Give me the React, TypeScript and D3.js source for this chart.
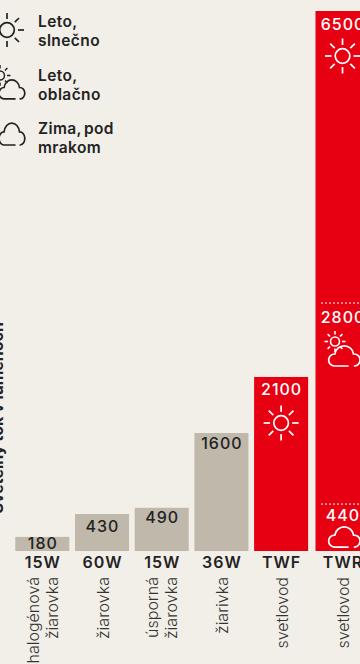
import React from "react";
import * as d3 from "d3";

const categories = ["15W", "60W", "15W", "36W", "TWF", "TWR"];
const valueLabels = ["180", "430", "490", "1600", "2100", "6500"];
const barValues = [170, 445, 520, 1420, 2095, 6500];
const typeLines = [["halogénová", "žiarovka"], ["žiarovka"], ["úsporná", "žiarovka"], ["žiarivka"], ["svetlovod"], ["svetlovod"]];
const highlighted = ["TWF", "TWR"];
const twrMarkers = [{ label: "2800", value: 2985, icon: "mixed" }, { label: "440", value: 565, icon: "cloud" }];
const legendLines = [["Leto,", "slnečno"], ["Leto,", "oblačno"], ["Zima, pod", "mrakom"]];
const axisTitle = "Svetelný tok v lumenoch";

const W = 360, H = 664, baseY = 551;
const BG = "#f2efe9", GREY = "#bfb8ab", RED = "#e60012", INK = "#222222";
const FONT = "Inter, Roboto, sans-serif";

const step = 59.7;
const pad = 0.095;
const x = d3.scaleBand<number>().domain(d3.range(6)).range([15.3, 15.3 + step * (6 - pad)]).paddingInner(pad).paddingOuter(0);
const y = d3.scaleLinear().domain([0, 6500]).range([baseY, 11]);
const lastNudge = 1.7;
const xPos = (i: number) => (x(i) as number) + (i === 5 ? lastNudge : 0);
const labelDrop = [12.5, 18, 15, 16, 18.5, 19];

const Sun = ({ cx, cy, r, r1, r2, stroke, sw }: any) => (
  <g transform={`translate(${cx},${cy})`} fill="none" stroke={stroke} strokeWidth={sw}>
    <circle r={r} />
    {d3.range(8).map((k) => {
      const a = (k * Math.PI) / 4;
      return <line key={k} x1={Math.cos(a) * r1} y1={Math.sin(a) * r1} x2={Math.cos(a) * r2} y2={Math.sin(a) * r2} />;
    })}
  </g>
);

const Cloud = ({ tx, ty, sx = 1, sy = 1, stroke, sw }: any) => (
  <path
    transform={`translate(${tx},${ty}) scale(${sx},${sy})`}
    vectorEffect="non-scaling-stroke"
    fill="none"
    stroke={stroke}
    strokeWidth={sw}
    strokeLinecap="round"
    d="M20 22 H6.5 A6 6 0 0 1 6.8 10 A9.5 9.5 0 0 1 25.6 10 A6 6 0 0 1 26.5 22"
  />
);

export default function App() {
  return (
    <svg width={W} height={H} viewBox={`0 0 ${W} ${H}`} style={{ position: "fixed", left: 0, top: 0, display: "block", background: BG }} fontFamily={FONT}>
      <rect width={W} height={H} fill={BG} />

      <Sun cx={7} cy={30} r={7.3} r1={11} r2={17} stroke={INK} sw={1.7} />
      <Sun cx={0} cy={75.5} r={4.5} r1={7} r2={10.5} stroke={INK} sw={1.5} />
      <Cloud tx={-1.5} ty={78} sx={0.82} sy={0.95} stroke={INK} sw={1.7} />
      <Cloud tx={-1.5} ty={121} sx={0.82} sy={1.09} stroke={INK} sw={1.7} />
      {legendLines.map((lines, i) => (
        <text key={i} fontSize={15.5} fontWeight={600} letterSpacing={0.4} wordSpacing={-2} fill={INK}>
          {lines.map((t, j) => (
            <tspan key={j} x={38} y={[27, 81, 134][i] + j * 18.5}>{t}</tspan>
          ))}
        </text>
      ))}

      <text transform="translate(3,322) rotate(-90)" textAnchor="end" fontSize={16} fontWeight={700} fill={INK}>{axisTitle}</text>

      {categories.map((c, i) => {
        const isRed = highlighted.includes(c);
        const top = y(barValues[i]);
        const cx = xPos(i) + x.bandwidth() / 2;
        return (
          <g key={i}>
            <rect x={xPos(i)} y={top} width={x.bandwidth()} height={baseY - top} fill={isRed ? RED : GREY} />
            <text x={cx + 0.5} y={top + labelDrop[i]} textAnchor="middle" fontSize={16} fontWeight={500} letterSpacing={1} fill={isRed ? "#fff" : INK}>{valueLabels[i]}</text>
            <text x={cx + 0.5} y={568} textAnchor="middle" fontSize={16} fontWeight={600} letterSpacing={1} fill={INK}>{c}</text>
            {typeLines[i].map((t, j, arr) => {
              const bx = cx + 6.5 + (j - (arr.length - 1)) * 19 + (arr.length > 1 ? 9 : 0);
              return (
                <text key={j} transform={`translate(${bx},577) rotate(-90)`} textAnchor="end" fontSize={16} fontWeight={300} fill="#333">{t}</text>
              );
            })}
          </g>
        );
      })}

      <Sun cx={xPos(4) + x.bandwidth() / 2} cy={423} r={7.3} r1={11} r2={17.5} stroke="#fff" sw={1.7} />
      <Sun cx={xPos(5) + x.bandwidth() / 2} cy={56} r={7.3} r1={11} r2={17.5} stroke="#fff" sw={1.7} />

      {twrMarkers.map((m) => {
        const my = y(m.value);
        const cx = xPos(5) + x.bandwidth() / 2;
        return (
          <g key={m.label}>
            <line x1={321} x2={360} y1={my} y2={my} stroke="#fff" strokeWidth={1} strokeDasharray="2 2" />
            <text x={cx + 0.5} y={my + (m.icon === "mixed" ? 20 : 17)} textAnchor="middle" fontSize={16} fontWeight={500} letterSpacing={1} fill="#fff">{m.label}</text>
            {m.icon === "mixed" && <Sun cx={335} cy={341.5} r={4.5} r1={7} r2={10.5} stroke="#fff" sw={1.6} />}
            <Cloud tx={328} ty={my + (m.icon === "mixed" ? 41 : 21)} stroke="#fff" sw={1.7} />
          </g>
        );
      })}
    </svg>
  );
}
